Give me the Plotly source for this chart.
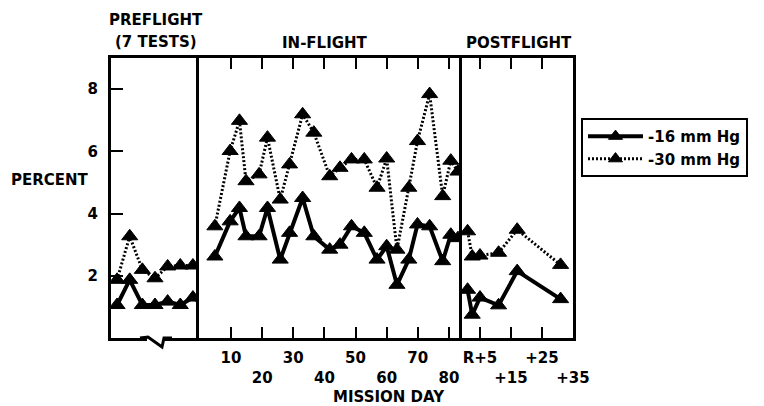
import plotly.graph_objects as go

# preflight: 7 tests
pre_tests = [1, 2, 3, 4, 5, 6, 7]
pre_16 = [1.06, 1.87, 1.06, 1.06, 1.17, 1.06, 1.30]
pre_30 = [1.87, 3.27, 2.19, 1.92, 2.30, 2.33, 2.33]
pre_edge = 7.48
pre_edge_16 = 1.17
pre_edge_30 = 2.32

# in-flight, mission day
day = [4.8, 9.7, 12.7, 14.8, 19.0, 21.7, 25.8, 28.8, 33.0, 36.6, 41.7, 45.0,
       48.7, 52.8, 56.9, 60.0, 63.3, 67.1, 69.9, 73.8, 78.0, 80.6, 82.9]
in_16 = [2.62, 3.75, 4.18, 3.27, 3.27, 4.18, 2.52, 3.38, 4.50, 3.27, 2.84, 3.00,
         3.59, 3.38, 2.52, 2.95, 1.71, 2.52, 3.65, 3.59, 2.47, 3.32, 3.21]
in_30 = [3.59, 6.01, 6.98, 5.04, 5.26, 6.44, 4.45, 5.58, 7.19, 6.60, 5.20, 5.47,
         5.74, 5.74, 4.83, 5.77, 2.84, 4.83, 6.33, 7.84, 4.56, 5.70, 5.35]

# postflight, days after recovery
post_day = [1, 2.5, 5, 11, 17, 31]
post_16 = [1.55, 0.75, 1.30, 1.05, 2.15, 1.25]
post_30 = [3.43, 2.62, 2.65, 2.74, 3.48, 2.35]

mid_ticks = [10, 20, 30, 40, 50, 60, 70, 80]
mid_text = ["10", "<br>20", "30", "<br>40", "50", "<br>60", "70", "<br>80"]
post_ticks = [5, 15, 25, 35]
post_text = ["R+5", "<br>+15", "+25", "<br>+35"]

FONT = dict(family="DejaVu Sans", size=15, color="black", weight="bold")
L, R, T, B = 111, 573, 58, 338   # frame in pixels


def px(x):
    return (x - L) / (R - L)


def py(y):
    return (B - y) / (B - T)


fig = go.Figure()

solid = dict(color="black", width=4)
dotted = dict(color="black", width=3, dash="2px,2px")
mk = dict(symbol="triangle-up", color="black", opacity=1, line=dict(color="black", width=1))

sets = [
    ("x", "y", pre_tests + [pre_edge], pre_16 + [pre_edge_16], pre_30 + [pre_edge_30], True),
    ("x2", "y2", day, in_16, in_30, False),
    ("x3", "y3", post_day, post_16, post_30, False),
]
for xa, ya, xs, s16, s30, edge in sets:
    sizes = [14] * len(xs)
    if edge:
        sizes[-1] = 0
    fig.add_trace(go.Scatter(x=xs, y=s16, xaxis=xa, yaxis=ya, mode="lines+markers",
                             line=solid, marker=dict(mk, size=sizes),
                             name="-16 mm Hg", legendgroup="16", showlegend=(xa == "x")))
    fig.add_trace(go.Scatter(x=xs, y=s30, xaxis=xa, yaxis=ya, mode="lines+markers",
                             line=dotted, marker=dict(mk, size=sizes),
                             name="-30 mm Hg", legendgroup="30", showlegend=(xa == "x")))

d1 = px(199)
d2 = px(462)
axline = dict(showline=True, linecolor="black", linewidth=3, showgrid=False,
              zeroline=False, automargin=False)
xt = dict(ticks="inside", ticklen=11, tickwidth=2, tickcolor="black", mirror="ticks",
          tickangle=0, ticklabelstandoff=4)
yr = [0, 9.0]

fig.update_layout(
    width=764, height=406,
    margin=dict(l=L, r=764 - R, t=T, b=406 - B, autoexpand=False),
    plot_bgcolor="white", paper_bgcolor="white",
    font=FONT,
    xaxis=dict(axline, domain=[0, d1], range=[0.52, 7.48], showticklabels=False,
               ticks="", mirror=True, anchor="y"),
    xaxis2=dict(axline, **xt, domain=[d1, d2], range=[-0.3, 84.2], tickvals=mid_ticks,
                ticktext=mid_text, anchor="y2"),
    xaxis3=dict(axline, **xt, domain=[d2, 1], range=[-0.8, 35], tickvals=post_ticks,
                ticktext=post_text, anchor="y3"),
    yaxis=dict(axline, range=yr, tickvals=[2, 4, 6, 8], ticks="inside", ticklen=12,
               tickwidth=2, tickcolor="black", anchor="x", ticklabelstandoff=7),
    yaxis2=dict(axline, range=yr, showticklabels=False, ticks="", anchor="x2"),
    yaxis3=dict(axline, range=yr, showticklabels=False, ticks="", mirror=True, anchor="x3"),
    legend=dict(x=px(581), y=py(118), xanchor="left", yanchor="top",
                bordercolor="black", borderwidth=2, bgcolor="white",
                font=dict(FONT, size=15), itemwidth=55, traceorder="normal",
                tracegroupgap=0),
    showlegend=True,
)

notes = [
    ("PREFLIGHT", 156, 20), ("(7 TESTS)", 156, 42), ("IN-FLIGHT", 325, 43),
    ("POSTFLIGHT", 519, 43), ("PERCENT", 50, 180), ("MISSION DAY", 389, 397),
]
for text, x, y in notes:
    fig.add_annotation(text=text, x=px(x), y=py(y), xref="paper", yref="paper",
                       showarrow=False, xanchor="center", yanchor="middle", font=FONT)

# axis break mark on the preflight baseline
fig.add_shape(type="rect", xref="paper", yref="paper", x0=px(147), x1=px(165),
              y0=py(341), y1=py(335), fillcolor="white", line_width=0, layer="above")
fig.add_shape(type="path", xref="paper", yref="paper", layer="above",
              path=f"M {px(140)},{py(338)} L {px(148)},{py(337)} L {px(162)},{py(347)} "
                   f"L {px(164)},{py(338)} L {px(172)},{py(338)}",
              line=dict(color="black", width=3))

fig.write_html("out.html", config={"displayModeBar": False},
               post_script="document.body.style.margin='0';")
